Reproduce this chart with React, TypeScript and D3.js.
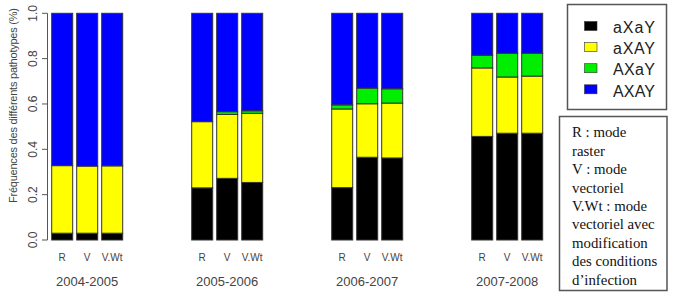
import * as d3 from "d3";

const W = 673;
const H = 293;

// categories
const years = ["2004-2005", "2005-2006", "2006-2007", "2007-2008"];
const modes = ["R", "V", "V.Wt"];
const pathotypes = ["aXaY", "aXAY", "AXaY", "AXAY"];
const colors = ["#000000", "#ffff00", "#00ee00", "#0000ff"];
const yTicks = [0, 0.2, 0.4, 0.6, 0.8, 1.0];

// proportions per bar (year x mode)
const aXaY = [0.03, 0.03, 0.03, 0.23, 0.272, 0.254, 0.231, 0.365, 0.362, 0.457, 0.471, 0.471];
const aXAY = [0.298, 0.296, 0.297, 0.292, 0.282, 0.305, 0.347, 0.236, 0.242, 0.302, 0.248, 0.252];
const AXaY = [0, 0, 0, 0, 0.012, 0.011, 0.018, 0.069, 0.063, 0.056, 0.105, 0.101];
const AXAY = [0.672, 0.674, 0.673, 0.478, 0.434, 0.43, 0.404, 0.33, 0.333, 0.185, 0.176, 0.176];

const noteLines = [
  "R : mode",
  "raster",
  "V : mode",
  "vectoriel",
  "V.Wt : mode",
  "vectoriel avec",
  "modification",
  "des conditions",
  "d\u2019infection",
];

const axisTitle = "Fréquences des différents pathotypes (%)";

const sans = "'Liberation Sans', Arial, sans-serif";
const serif = "'Liberation Serif', 'Times New Roman', serif";

export default function App() {
  const rows = years.flatMap((yr, gi) =>
    modes.map((m, mi) => {
      const i = gi * 3 + mi;
      return { year: yr, mode: m, aXaY: aXaY[i], aXAY: aXAY[i], AXaY: AXaY[i], AXAY: AXAY[i] };
    })
  );
  const stacked = d3.stack<any>().keys(pathotypes)(rows);

  const y = d3.scaleLinear().domain([0, 1]).range([240, 13.3]);
  const xGroup = d3.scaleBand().domain(years).range([51.7, 542.7]).paddingInner(69 / 140).paddingOuter(0);
  const xBar = d3.scaleBand().domain(modes).range([0, xGroup.bandwidth()]).paddingInner(4 / 25).paddingOuter(0);
  const color = d3.scaleOrdinal<string, string>().domain(pathotypes).range(colors);

  const barX = (d: any) => (xGroup(d.data.year) ?? 0) + (xBar(d.data.mode) ?? 0);

  return (
    <div style={{ position: "absolute", left: 0, top: 0 }}>
      <svg width={W} height={H} viewBox={`0 0 ${W} ${H}`} style={{ display: "block", background: "#fff" }}>
        {/* bars */}
        <g className="bars">
          {stacked.map((layer) => (
            <g key={layer.key} fill={color(layer.key)}>
              {layer
                .filter((d) => d[1] - d[0] > 0)
                .map((d, i) => (
                  <rect
                    key={i}
                    x={barX(d)}
                    y={y(d[1])}
                    width={xBar.bandwidth()}
                    height={y(d[0]) - y(d[1])}
                    stroke="#333"
                    strokeWidth={1}
                  />
                ))}
            </g>
          ))}
        </g>

        {/* y axis */}
        <g className="y-axis" fontFamily={sans} fontSize={12} fill="#444">
          <line x1={47.5} x2={47.5} y1={y(0)} y2={y(1)} stroke="#555" />
          {yTicks.map((t) => (
            <g key={t}>
              <line x1={42} x2={47.5} y1={y(t)} y2={y(t)} stroke="#555" />
              <text transform={`translate(36.5,${y(t)}) rotate(-90)`} textAnchor="middle">
                {t.toFixed(1)}
              </text>
            </g>
          ))}
        </g>
        <text
          transform={`translate(17,105.5) rotate(-90)`}
          textAnchor="middle"
          fontFamily={sans}
          fontSize={11}
          fill="#444"
          textLength={195}
        >
          {axisTitle}
        </text>

        {/* x labels */}
        <g fontFamily={sans} fill="#444" textAnchor="middle">
          {years.map((yr) => (
            <g key={yr}>
              {modes.map((m) => (
                <text key={m} x={(xGroup(yr) ?? 0) + (xBar(m) ?? 0) + xBar.bandwidth() / 2} y={261} fontSize={10}>
                  {m}
                </text>
              ))}
              <text x={(xGroup(yr) ?? 0) + xGroup.bandwidth() / 2} y={286} fontSize={13}>
                {yr}
              </text>
            </g>
          ))}
        </g>

        {/* legend */}
        <g className="legend">
          <rect x={567.5} y={4.5} width={99} height={105} fill="#fff" stroke="#555" strokeWidth={1.5} />
          {pathotypes.map((p, i) => (
            <g key={p} transform={`translate(0,${i * 21.1})`}>
              <rect x={584.5} y={21.5} width={12.5} height={9} fill={color(p)} stroke="#333" strokeWidth={0.6} />
              <text x={613} y={33.3} fontFamily={sans} fontSize={16} fill="#222" textLength={42}>
                {p}
              </text>
            </g>
          ))}
        </g>

        {/* note box */}
        <g className="note">
          <rect x={559.5} y={116.5} width={107.5} height={174} fill="#fff" stroke="#555" strokeWidth={1.5} />
          <g transform="translate(572,0) scale(1.06,1)">
            {noteLines.map((l, i) => (
              <text key={i} x={0} y={137.5 + i * 18.4} fontFamily={serif} fontSize={14} fill="#111">
                {l}
              </text>
            ))}
          </g>
        </g>
      </svg>
    </div>
  );
}
